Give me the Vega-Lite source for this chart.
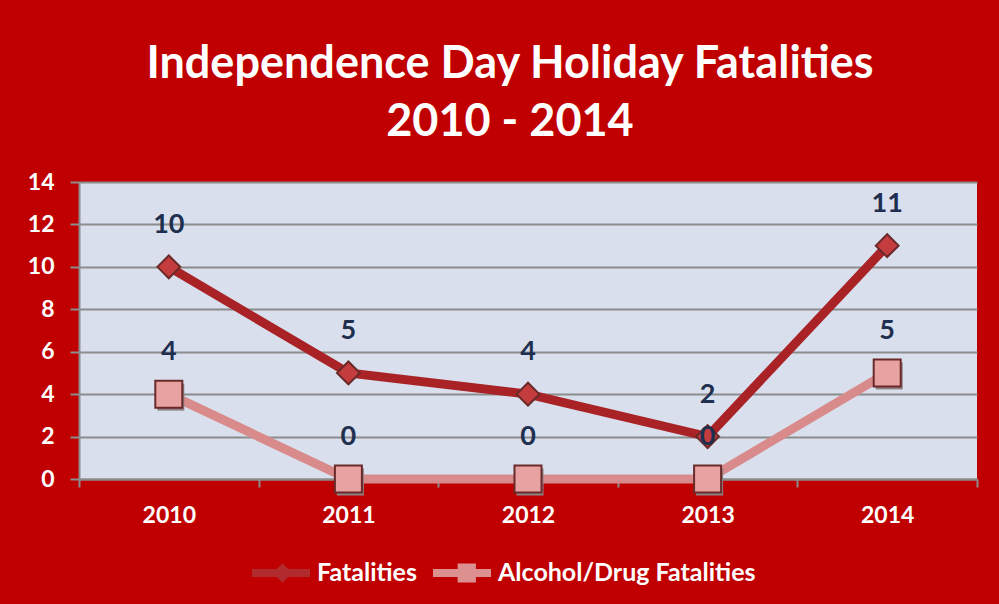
{
  "$schema": "https://vega.github.io/schema/vega-lite/v6.json",
  "autosize": {"type": "none"},
  "width": 898,
  "height": 297,
  "padding": {"left": 79, "top": 182, "right": 22, "bottom": 125},
  "background": "#c00000",
  "title": {
    "text": ["Independence Day Holiday Fatalities", "2010 - 2014"],
    "font": "Lato",
    "fontSize": 45,
    "fontWeight": "bold",
    "color": "#ffffff",
    "lineHeight": 58,
    "anchor": "middle",
    "dx": -18,
    "offset": 26
  },
  "data": {
    "values": [
      {"year": "2010", "series": "Fatalities", "value": 10},
      {"year": "2011", "series": "Fatalities", "value": 5},
      {"year": "2012", "series": "Fatalities", "value": 4},
      {"year": "2013", "series": "Fatalities", "value": 2},
      {"year": "2014", "series": "Fatalities", "value": 11},
      {"year": "2010", "series": "Alcohol/Drug Fatalities", "value": 4},
      {"year": "2011", "series": "Alcohol/Drug Fatalities", "value": 0},
      {"year": "2012", "series": "Alcohol/Drug Fatalities", "value": 0},
      {"year": "2013", "series": "Alcohol/Drug Fatalities", "value": 0},
      {"year": "2014", "series": "Alcohol/Drug Fatalities", "value": 5}
    ]
  },
  "encoding": {
    "x": {
      "field": "year", "type": "ordinal",
      "scale": {"type": "band", "paddingInner": 0, "paddingOuter": 0},
      "axis": {
        "title": null, "labelAngle": 0, "tickBand": "extent",
        "domainColor": "#8c8c8c", "domainWidth": 2,
        "tickColor": "#8c8c8c", "tickWidth": 2, "tickSize": 8,
        "labelFont": "Lato", "labelFontSize": 23, "labelFontWeight": "bold",
        "labelColor": "#ffffff", "labelPadding": 17, "grid": false
      }
    },
    "y": {
      "field": "value", "type": "quantitative",
      "scale": {"domain": [0, 14], "nice": false},
      "axis": {
        "title": null, "values": [0, 2, 4, 6, 8, 10, 12, 14],
        "domainColor": "#8c8c8c", "domainWidth": 2,
        "tickColor": "#8c8c8c", "tickWidth": 2, "tickSize": 9,
        "gridColor": "#8c8c8c", "gridWidth": 2,
        "labelFont": "Lato", "labelFontSize": 23, "labelFontWeight": "bold",
        "labelColor": "#ffffff", "labelPadding": 16
      }
    }
  },
  "layer": [
    {
      "mark": {"type": "line", "strokeWidth": 9, "strokeCap": "butt"},
      "encoding": {
        "stroke": {
          "field": "series", "type": "nominal",
          "scale": {"domain": ["Fatalities", "Alcohol/Drug Fatalities"], "range": ["#a82226", "#d98a8a"]},
          "legend": null
        },
        "order": {"field": "year"}
      }
    },
    {
      "transform": [{"filter": "datum.series === 'Alcohol/Drug Fatalities'"}],
      "mark": {"type": "point", "shape": "square", "filled": true, "size": 729, "color": "#8e8282", "opacity": 1},
      "encoding": {
        "xOffset": {"value": 91.8},
        "yOffset": {"value": 3}
      }
    },
    {
      "mark": {"type": "point", "filled": true, "strokeWidth": 2, "opacity": 1},
      "encoding": {
        "shape": {
          "field": "series", "type": "nominal",
          "scale": {"domain": ["Fatalities", "Alcohol/Drug Fatalities"], "range": ["diamond", "square"]},
          "legend": null
        },
        "fill": {
          "field": "series", "type": "nominal",
          "scale": {"domain": ["Fatalities", "Alcohol/Drug Fatalities"], "range": ["#c43c3e", "#e8a2a2"]},
          "legend": null
        },
        "stroke": {"value": "#6a2a2a"},
        "size": {
          "field": "series", "type": "nominal",
          "scale": {"domain": ["Fatalities", "Alcohol/Drug Fatalities"], "range": [520, 729]},
          "legend": null
        }
      }
    },
    {
      "mark": {"type": "text", "dy": -42, "font": "Lato", "fontSize": 27, "fontWeight": "bold", "color": "#1f2f4f"},
      "encoding": {
        "text": {"field": "value", "type": "quantitative"}
      }
    },
    {
      "data": {"values": [{"note": "Note:  Years prior to 2014 do not include drug-related fatalites."}]},
      "mark": {"type": "text", "font": "Lato", "fontSize": 15, "color": "#3b2a2a", "dx": -17},
      "encoding": {
        "x": {"datum": "2012", "type": "ordinal"},
        "y": {"datum": 12.65, "type": "quantitative"},
        "text": {"field": "note"}
      }
    },
    {
      "mark": {"type": "point", "filled": true, "opacity": 0},
      "encoding": {
        "shape": {
          "field": "series", "type": "nominal",
          "scale": {"domain": ["Fatalities", "Alcohol/Drug Fatalities"], "range": ["M-1,-0.14 L1,-0.14 L1,0.14 L-1,0.14 Z M0.05,-0.34 L0.39,0 L0.05,0.34 L-0.29,0 Z", "M-1,-0.14 L1,-0.14 L1,0.14 L-1,0.14 Z M-0.15,-0.33 L0.48,-0.33 L0.48,0.33 L-0.15,0.33 Z"]},
          "legend": {
            "title": null, "orient": "none", "direction": "horizontal",
            "legendX": 173, "legendY": 362,
            "symbolSize": 3364, "symbolStrokeWidth": 0, "symbolOpacity": 1,
            "labelFont": "Lato", "labelFontSize": 25, "labelFontWeight": "bold",
            "labelColor": "#ffffff", "labelOffset": 7, "columnPadding": 16, "labelLimit": 0
          }
        },
        "fill": {
          "field": "series", "type": "nominal",
          "scale": {"domain": ["Fatalities", "Alcohol/Drug Fatalities"], "range": ["#b02a2e", "#dc9090"]},
          "legend": {
            "title": null, "orient": "none", "direction": "horizontal",
            "legendX": 173, "legendY": 362,
            "symbolSize": 3364, "symbolStrokeWidth": 0, "symbolOpacity": 1,
            "labelFont": "Lato", "labelFontSize": 25, "labelFontWeight": "bold",
            "labelColor": "#ffffff", "labelOffset": 7, "columnPadding": 16, "labelLimit": 0
          }
        }
      }
    }
  ],
  "resolve": {"scale": {"shape": "independent", "fill": "independent"}},
  "config": {
    "view": {"fill": "#d9dfec", "stroke": null}
  }
}
